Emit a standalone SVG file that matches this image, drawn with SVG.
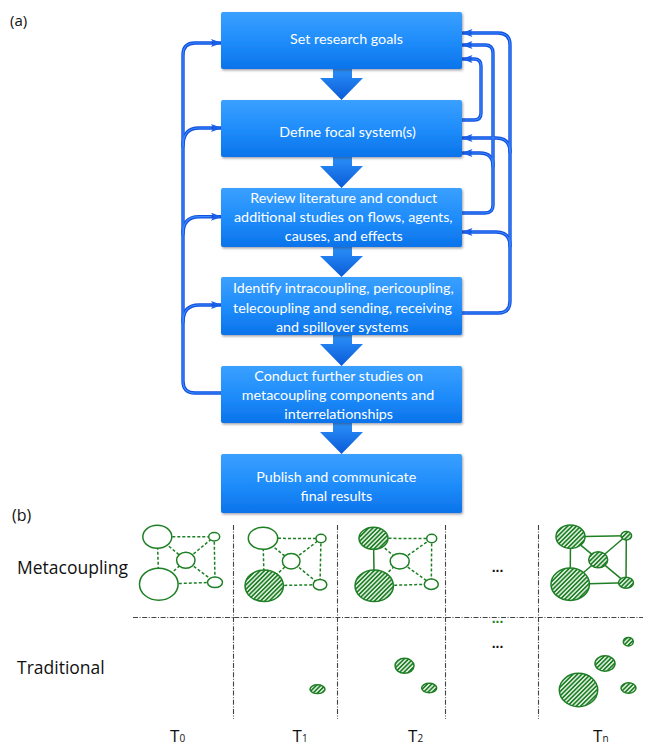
<svg xmlns="http://www.w3.org/2000/svg" width="646" height="755" viewBox="0 0 646 755">
<style>
.box{fill:url(#boxg);filter:url(#sh)}
.bt{font-family:Lato,"Liberation Sans",sans-serif;font-size:14.3px;fill:#fff;text-anchor:middle}
.ba{fill:url(#arrg)}
.co{fill:none;stroke:#1150e0;stroke-width:3.4;stroke-linecap:round;stroke-linejoin:round}
.ci{fill:none;stroke:#3d8bff;stroke-width:1.2;stroke-linecap:round}
.lbl{font-family:"Open Sans","Liberation Sans",sans-serif;fill:#111}
.grid{fill:none;stroke:#444;stroke-width:1.1;stroke-dasharray:5 1.6 1 1.6}
.nw{fill:#fff;stroke:#1e7f24;stroke-width:1.5}
.nh{fill:url(#hatch);stroke:#1e7f24;stroke-width:1.5}
.ed{stroke:#1e7f24;stroke-width:1.5;stroke-dasharray:3 2}
.es{stroke:#1e7f24;stroke-width:1.5}
</style>
<defs>
<linearGradient id="boxg" x1="0" y1="0" x2="0" y2="1">
<stop offset="0" stop-color="#3aa0ff"/>
<stop offset="0.55" stop-color="#1d8bfa"/>
<stop offset="1" stop-color="#0b73ea"/>
</linearGradient>
<linearGradient id="arrg" x1="0" y1="0" x2="0" y2="1">
<stop offset="0" stop-color="#2a90fa"/>
<stop offset="1" stop-color="#0b5ad6"/>
</linearGradient>
<filter id="sh" x="-5%" y="-10%" width="110%" height="130%">
<feDropShadow dx="1" dy="1.5" stdDeviation="1" flood-color="#334" flood-opacity="0.45"/>
</filter>
<marker id="ah" markerUnits="userSpaceOnUse" markerWidth="12" markerHeight="10" refX="10" refY="4" orient="auto">
<path d="M0,0 L11,4 L0,8 L2.5,4 Z" fill="#1a5fe8"/>
</marker>
<pattern id="hatch" patternUnits="userSpaceOnUse" width="3.1" height="3.1" patternTransform="rotate(45)">
<rect width="3.1" height="3.1" fill="#fff"/>
<line x1="1.55" y1="0" x2="1.55" y2="3.1" stroke="#1e7f24" stroke-width="1.8"/>
</pattern>
</defs>
<rect width="646" height="755" fill="#fff"/>

<text x="10" y="26" class="lbl" font-size="15">(a)</text>

<g id="connectors">
<g id="block-arrows">
<path class="ba" d="M333 69 H352 V78 H363 L341.5 100 L320 78 H333 Z"/>
<path class="ba" d="M333 157 H352 V166 H363 L341.5 188 L320 166 H333 Z"/>
<path class="ba" d="M333 247 H352 V256 H363 L341.5 277 L320 256 H333 Z"/>
<path class="ba" d="M333 335 H352 V344 H363 L341.5 366 L320 344 H333 Z"/>
<path class="ba" d="M333 423 H352 V432 H363 L341.5 454 L320 432 H333 Z"/>
</g>
<g id="feedback-lines">
<path class="co" d="M221 393 H195 Q183 393 183 381 V55 Q183 43 195 43 H221" marker-end="url(#ah)"/>
<path class="co" d="M183 146 Q183 128 199 128 H221" marker-end="url(#ah)"/>
<path class="co" d="M183 234 Q183 216.7 199 216.7 H221" marker-end="url(#ah)"/>
<path class="co" d="M183 322 Q183 305 199 305 H221" marker-end="url(#ah)"/>
<path class="co" d="M462 313 H498 Q510 313 510 301 V45 Q510 33 498 33 H462.5" marker-end="url(#ah)"/>
<path class="co" d="M510 152 Q510 138 496 138 H462.5" marker-end="url(#ah)"/>
<path class="co" d="M510 246 Q510 232 496 232 H462.5" marker-end="url(#ah)"/>
<path class="co" d="M462 213 H485 Q493 213 493 205 V53 Q493 45 485 45 H462.5" marker-end="url(#ah)"/>
<path class="co" d="M493 166 Q493 153 480 153 H462.5" marker-end="url(#ah)"/>
<path class="co" d="M462 120 H474 Q481 120 481 113 V66 Q481 59 474 59 H462.5" marker-end="url(#ah)"/>
<path class="ci" d="M221 393 H195 Q183 393 183 381 V55 Q183 43 195 43 H211"/>
<path class="ci" d="M183 146 Q183 128 199 128 H211"/>
<path class="ci" d="M183 234 Q183 216.7 199 216.7 H211"/>
<path class="ci" d="M183 322 Q183 305 199 305 H211"/>
<path class="ci" d="M462 313 H498 Q510 313 510 301 V45 Q510 33 498 33 H472"/>
<path class="ci" d="M510 152 Q510 138 496 138 H472"/>
<path class="ci" d="M510 246 Q510 232 496 232 H472"/>
<path class="ci" d="M462 213 H485 Q493 213 493 205 V53 Q493 45 485 45 H472"/>
<path class="ci" d="M493 166 Q493 153 480 153 H472"/>
<path class="ci" d="M462 120 H474 Q481 120 481 113 V66 Q481 59 474 59 H472"/>
</g>
</g>

<g id="n1"><rect class="box" x="221" y="12" width="241" height="57" rx="2"/>
<text class="bt" x="346.5" y="43.5">Set research goals</text></g>
<g id="n2"><rect class="box" x="221" y="100" width="241" height="57" rx="2"/>
<text class="bt" x="347.5" y="136.5">Define focal system(s)</text></g>
<g id="n3"><rect class="box" x="221" y="188" width="241" height="59" rx="2"/>
<text class="bt" x="343.7" y="203.3">Review literature and conduct</text>
<text class="bt" x="343.3" y="222.3">additional studies on flows, agents,</text>
<text class="bt" x="343.8" y="241">causes, and effects</text></g>
<g id="n4"><rect class="box" x="221" y="277" width="241" height="58" rx="2"/>
<text class="bt" x="343.3" y="293.3">Identify intracoupling, pericoupling,</text>
<text class="bt" x="342.5" y="312.5">telecoupling and sending, receiving</text>
<text class="bt" x="342.2" y="331.5">and spillover systems</text></g>
<g id="n5"><rect class="box" x="221" y="366" width="241" height="57" rx="2"/>
<text class="bt" x="338.7" y="381">Conduct further studies on</text>
<text class="bt" x="338" y="400">metacoupling components and</text>
<text class="bt" x="338.7" y="419">interrelationships</text></g>
<g id="n6"><rect class="box" x="221" y="454" width="241" height="59" rx="2"/>
<text class="bt" x="336.2" y="481.7">Publish and communicate</text>
<text class="bt" x="336.3" y="500.7">final results</text></g>

<text x="12" y="521" class="lbl" font-size="16">(b)</text>
<text x="17" y="574" class="lbl" font-size="17.5">Metacoupling</text>
<text x="17" y="674" class="lbl" font-size="17.5">Traditional</text>

<g id="grid">
<path class="grid" d="M133 617.5 H643"/>
<path class="grid" d="M233.5 525 V719"/>
<path class="grid" d="M337.5 525 V719"/>
<path class="grid" d="M445.5 525 V719"/>
<path class="grid" d="M538.5 525 V719"/>
</g>

<g id="net-t0">
<line class="ed" x1="157.3" y1="536.7" x2="214.2" y2="536.7"/>
<line class="ed" x1="214.2" y1="536.7" x2="215" y2="582.3"/>
<line class="ed" x1="158.8" y1="584.2" x2="215" y2="582.3"/>
<line class="ed" x1="157.3" y1="536.7" x2="158.8" y2="584.2"/>
<line class="ed" x1="157.3" y1="536.7" x2="185.8" y2="560.3"/>
<line class="ed" x1="185.8" y1="560.3" x2="214.2" y2="536.7"/>
<line class="ed" x1="185.8" y1="560.3" x2="215" y2="582.3"/>
<line class="ed" x1="158.8" y1="584.2" x2="185.8" y2="560.3"/>
<ellipse class="nw" cx="157.3" cy="536.7" rx="14.5" ry="11.5"/>
<ellipse class="nw" cx="158.8" cy="584.2" rx="19.3" ry="16"/>
<ellipse class="nw" cx="185.8" cy="560.3" rx="9.2" ry="8"/>
<ellipse class="nw" cx="214.2" cy="536.7" rx="5.5" ry="4.2"/>
<ellipse class="nw" cx="215" cy="582.3" rx="7.5" ry="5.3"/>
</g>

<g id="net-t1">
<line class="ed" x1="263" y1="538.3" x2="321" y2="538.5"/>
<line class="ed" x1="321" y1="538.5" x2="320" y2="584.7"/>
<line class="ed" x1="264.2" y1="585.8" x2="320" y2="584.7"/>
<line class="ed" x1="263" y1="538.3" x2="264.2" y2="585.8"/>
<line class="ed" x1="263" y1="538.3" x2="291.2" y2="561.2"/>
<line class="ed" x1="291.2" y1="561.2" x2="321" y2="538.5"/>
<line class="ed" x1="291.2" y1="561.2" x2="320" y2="584.7"/>
<line class="ed" x1="264.2" y1="585.8" x2="291.2" y2="561.2"/>
<ellipse class="nw" cx="263" cy="538.3" rx="14.7" ry="11"/>
<ellipse class="nh" cx="264.2" cy="585.8" rx="19.2" ry="15.8"/>
<ellipse class="nw" cx="291.2" cy="561.2" rx="8.8" ry="7.8"/>
<ellipse class="nw" cx="321" cy="538.5" rx="5" ry="4.2"/>
<ellipse class="nw" cx="320" cy="584.7" rx="6.8" ry="5.3"/>
</g>

<g id="net-t2">
<line class="ed" x1="373.5" y1="538.3" x2="431.7" y2="538.5"/>
<line class="ed" x1="431.7" y1="538.5" x2="431.3" y2="584.2"/>
<line class="ed" x1="374.2" y1="585.8" x2="431.3" y2="584.2"/>
<line class="es" x1="373.5" y1="538.3" x2="374.2" y2="585.8"/>
<line class="ed" x1="373.5" y1="538.3" x2="399.7" y2="561.2"/>
<line class="ed" x1="399.7" y1="561.2" x2="431.7" y2="538.5"/>
<line class="ed" x1="399.7" y1="561.2" x2="431.3" y2="584.2"/>
<line class="ed" x1="374.2" y1="585.8" x2="399.7" y2="561.2"/>
<ellipse class="nh" cx="373.5" cy="538.3" rx="14.5" ry="11"/>
<ellipse class="nh" cx="374.2" cy="585.8" rx="19.2" ry="15.8"/>
<ellipse class="nw" cx="399.7" cy="561.2" rx="9.5" ry="7.8"/>
<ellipse class="nw" cx="431.7" cy="538.5" rx="5" ry="4.2"/>
<ellipse class="nw" cx="431.3" cy="584.2" rx="7" ry="5.2"/>
</g>

<g id="net-tn">
<line class="es" x1="570.5" y1="536.7" x2="626.3" y2="535.8"/>
<line class="es" x1="626.3" y1="535.8" x2="626" y2="582.8"/>
<line class="es" x1="570.2" y1="584.2" x2="626" y2="582.8"/>
<line class="es" x1="570.5" y1="536.7" x2="570.2" y2="584.2"/>
<line class="es" x1="570.5" y1="536.7" x2="598.2" y2="559.7"/>
<line class="es" x1="598.2" y1="559.7" x2="626.3" y2="535.8"/>
<line class="es" x1="598.2" y1="559.7" x2="626" y2="582.8"/>
<line class="es" x1="570.2" y1="584.2" x2="598.2" y2="559.7"/>
<ellipse class="nh" cx="570.5" cy="536.7" rx="14.5" ry="11.7"/>
<ellipse class="nh" cx="570.2" cy="584.2" rx="19.2" ry="16.2"/>
<ellipse class="nh" cx="598.2" cy="559.7" rx="9.5" ry="8"/>
<ellipse class="nh" cx="626.3" cy="535.8" rx="5.3" ry="4.2"/>
<ellipse class="nh" cx="626" cy="582.8" rx="7.5" ry="5.5"/>
</g>

<g id="traditional">
<ellipse class="nh" cx="317.5" cy="689.2" rx="7.5" ry="4.4"/>
<ellipse class="nh" cx="404.5" cy="665.8" rx="9.5" ry="7.5"/>
<ellipse class="nh" cx="429.2" cy="688" rx="7.5" ry="4.7"/>
<ellipse class="nh" cx="578.5" cy="690" rx="19.2" ry="16.7"/>
<ellipse class="nh" cx="605" cy="663.5" rx="10" ry="7.8"/>
<ellipse class="nh" cx="628.3" cy="641.7" rx="5" ry="4.3"/>
<ellipse class="nh" cx="628.5" cy="688" rx="7.5" ry="5.3"/>
</g>

<text x="497.5" y="572" font-family="'Liberation Sans',sans-serif" font-size="14" font-weight="bold" fill="#111" text-anchor="middle">...</text>
<text x="497.5" y="623" font-family="'Liberation Sans',sans-serif" font-size="14" font-weight="bold" fill="#1e7f24" text-anchor="middle">...</text>
<text x="497.5" y="648" font-family="'Liberation Sans',sans-serif" font-size="14" font-weight="bold" fill="#111" text-anchor="middle">...</text>

<g id="time-labels" class="lbl" font-size="17">
<text x="170" y="742">T<tspan font-size="10">0</tspan></text>
<text x="292.5" y="742">T<tspan font-size="10">1</tspan></text>
<text x="408" y="742">T<tspan font-size="10">2</tspan></text>
<text x="593" y="742">T<tspan font-size="10">n</tspan></text>
</g>
</svg>
